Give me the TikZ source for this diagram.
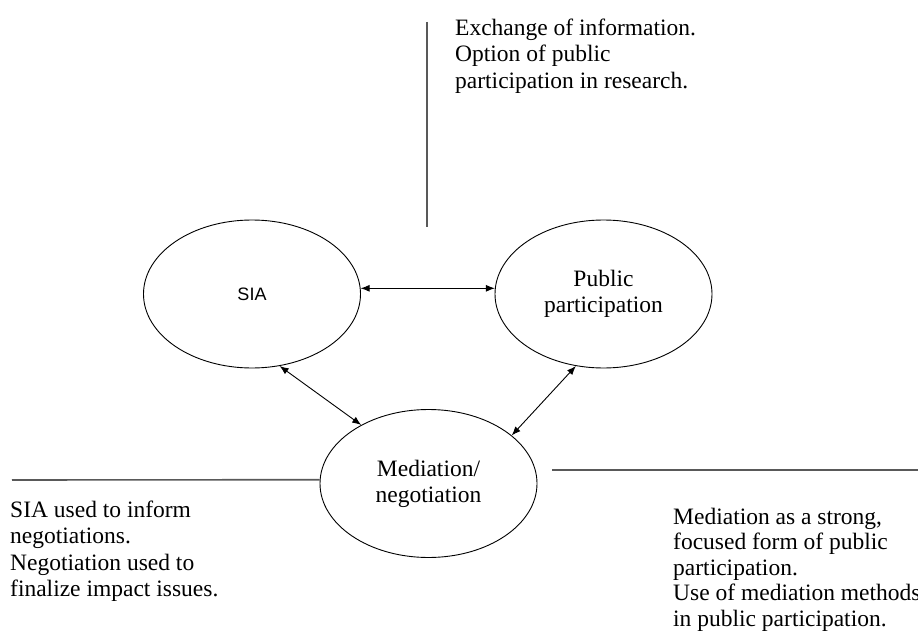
\documentclass[tikz,border=0pt]{standalone}
\usepackage{fontspec}
\setmainfont{Liberation Serif}
\newfontfamily\sansf{Liberation Sans}
\usetikzlibrary{shapes.geometric,arrows.meta}
\begin{document}
\begin{tikzpicture}[x=1pt,y=-1pt,
  bubble/.style={ellipse,draw=black,line width=0.9pt,minimum width=217pt,minimum height=148pt,inner sep=0pt,align=center,font=\fontsize{23.5}{26}\selectfont},
  note/.style={anchor=base west,inner sep=0pt,align=left,font=\fontsize{23.5}{26.5}\selectfont},
  divider/.style={line width=1.6pt,draw=black!65},
  link/.style={line width=0.9pt,{Latex[length=9pt,width=7pt]}-{Latex[length=9pt,width=7pt]}}]
\useasboundingbox (0,0) rectangle (918,631);

% ellipses
\node[bubble] (sia) at (252,294) {\sansf\fontsize{18}{20}\selectfont SIA};
\node[bubble] (pub) at (603.5,294) {Public\\participation};
\node[bubble] (med) at (428.5,483.5) {Mediation/\\negotiation};

% connectors
\draw[link] (sia.3) -- (pub.177);
\draw[link] (sia.-69) -- (med.139);
\draw[link] (med.30) -- (pub.-111);

% dividers
\coordinate (vt) at (427,22);
\coordinate (vb) at (427,227);
\coordinate (ll) at (12,480);
\coordinate (rl) at (552,470);
\coordinate (rr) at (918,470);
\draw[divider] (vt) -- (vb);
\draw[divider] (ll) -- (med.178);
\draw[divider] (rl) -- (rr);

% notes (base anchor = baseline of the last line)
\node[note] (topnote) at (455,88.5) {Exchange of information.\\Option of public\\participation in research.};
\node[note] (leftnote) at (10,596.5) {SIA used to inform\\negotiations.\\Negotiation used to\\finalize impact issues.};
\node[note,font=\fontsize{23.5}{25.5}\selectfont] (rightnote) at (673,626) {Mediation as a strong,\\focused form of public\\participation.\\Use of mediation methods\\in public participation.};
\end{tikzpicture}
\end{document}
